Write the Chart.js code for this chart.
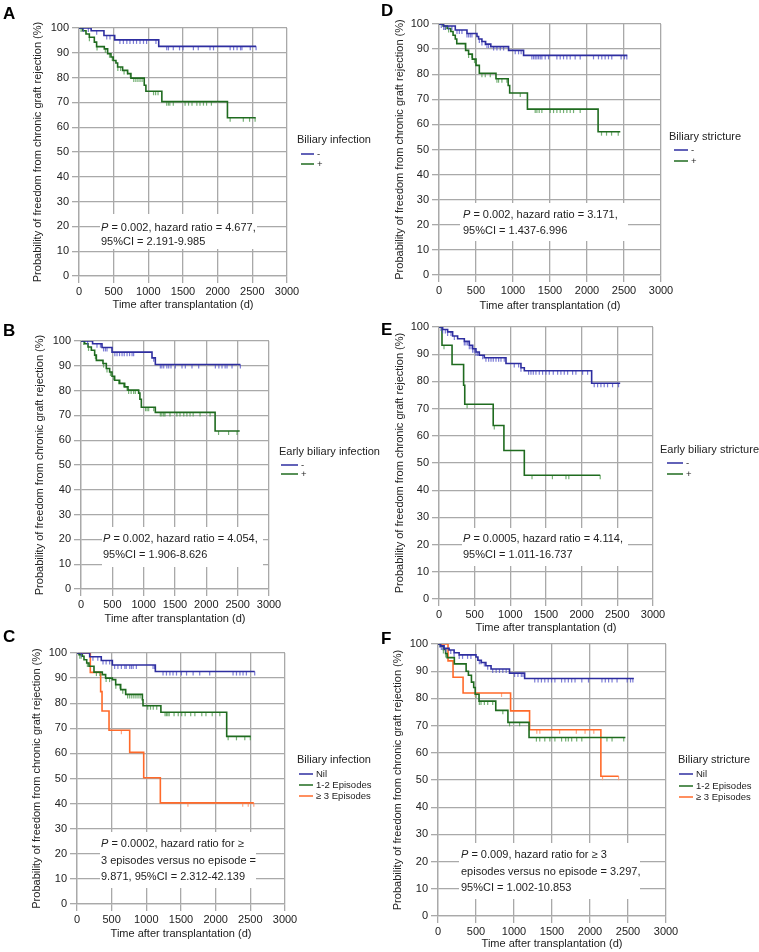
<!DOCTYPE html>
<html>
<head>
<meta charset="utf-8">
<script src="https://cdn.jsdelivr.net/npm/chart.js@4.4.0/dist/chart.umd.min.js"></script>
<style>
body { margin: 0; background: #fff; }
#wrap { position: relative; width: 759px; height: 952px; }
#wrap canvas { position: absolute; left: 0; top: 0; }
</style>
</head>
<body>
<div id="wrap"></div>
<script>
// axis ticks
const xTicks = [0, 500, 1000, 1500, 2000, 2500, 3000];
const yTicks = [0, 10, 20, 30, 40, 50, 60, 70, 80, 90, 100];

// A - biliary infection
const aNilT = [0, 175, 360, 515, 1150, 2554];
const aNilS = [100, 98.9, 97.0, 95.2, 92.6, 92.6];
const aNilC = [63, 135, 255, 400, 447, 590, 640, 690, 735, 785, 830, 880, 930, 975, 1110, 1265, 1290, 1360, 1450, 1500, 1650, 1720, 1890, 1940, 2180, 2230, 2280, 2330, 2350, 2470, 2554];
const aPosT = [0, 53, 101, 149, 221, 254, 365, 413, 461, 494, 533, 557, 629, 701, 749, 941, 965, 1195, 2141, 2549];
const aPosS = [100, 98.9, 97.6, 96.3, 94.3, 92.5, 91.6, 89.6, 88.3, 86.9, 85.9, 84.3, 82.9, 81.6, 79.8, 76.9, 74.5, 70.3, 63.8, 63.8];
const aPosC = [30, 150, 260, 380, 410, 440, 480, 560, 600, 650, 700, 740, 790, 820, 850, 880, 910, 1075, 1105, 1140, 1265, 1290, 1310, 1360, 1530, 1580, 1630, 1700, 1745, 1795, 1840, 1910, 2180, 2370, 2460, 2540];

// B - early biliary infection
const bNilT = [0, 185, 335, 495, 1133, 1186, 2543];
const bNilS = [100, 98.9, 97.4, 95.5, 93.2, 90.5, 90.5];
const bNilC = [106, 255, 310, 360, 390, 415, 540, 575, 615, 655, 690, 735, 775, 815, 840, 1160, 1266, 1290, 1320, 1370, 1400, 1436, 1505, 1612, 1665, 1771, 1878, 2144, 2200, 2250, 2300, 2330, 2410, 2543];
const bPosT = [0, 58, 112, 165, 218, 245, 351, 404, 457, 495, 537, 617, 697, 750, 920, 940, 963, 1186, 2140, 2532];
const bPosS = [100, 98.9, 97.6, 96.3, 94.3, 92.2, 90.9, 88.9, 87.5, 85.8, 84.2, 82.9, 81.5, 80.2, 79.0, 76.5, 73.3, 71.2, 63.7, 63.7];
const bPosC = [43, 120, 230, 360, 415, 470, 520, 600, 680, 735, 760, 800, 840, 867, 1030, 1055, 1080, 1160, 1266, 1290, 1320, 1340, 1420, 1530, 1580, 1640, 1690, 1740, 1790, 1900, 2060, 2195, 2355, 2490];

// C - biliary infection episodes
const cNilT = [0, 183, 350, 510, 1130, 2563];
const cNilS = [100, 98.5, 97.0, 95.2, 92.6, 92.6];
const cNilC = [63, 230, 300, 375, 420, 471, 543, 590, 640, 690, 710, 760, 785, 810, 856, 1097, 1120, 1241, 1290, 1340, 1385, 1435, 1505, 1580, 1675, 1770, 1914, 2251, 2300, 2350, 2395, 2443, 2563];
const cOneT = [0, 29, 77, 101, 140, 173, 245, 365, 413, 510, 558, 630, 702, 943, 952, 1210, 2159, 2506];
const cOneS = [100, 99.3, 98.7, 97.3, 96.0, 94.7, 92.4, 91.4, 90.0, 89.4, 87.4, 85.4, 83.5, 81.4, 79.0, 76.4, 66.8, 66.8];
const cOneC = [40, 60, 150, 280, 330, 420, 470, 560, 620, 660, 700, 730, 760, 790, 820, 850, 880, 910, 1020, 1060, 1100, 1150, 1270, 1290, 1310, 1330, 1400, 1460, 1510, 1560, 1640, 1700, 1800, 1860, 1950, 2060, 2180, 2300, 2420, 2500];
const cThrT = [0, 192, 341, 361, 462, 760, 962, 1202, 2550];
const cThrS = [100, 92.3, 84.6, 76.9, 69.2, 60.4, 50.3, 40.3, 40.3];
const cThrC = [640, 1600, 2390, 2470, 2550];

// D - biliary stricture
const dNilT = [0, 63, 220, 378, 513, 535, 580, 630, 700, 940, 1143, 2545];
const dNilS = [100, 99.2, 97.6, 96.2, 95.0, 94.0, 93.0, 92.0, 91.0, 89.5, 87.5, 87.5];
const dNilC = [31, 63, 86, 131, 175, 243, 275, 310, 378, 400, 423, 445, 545, 580, 625, 648, 670, 738, 783, 828, 873, 1030, 1075, 1110, 1255, 1278, 1300, 1323, 1345, 1368, 1390, 1435, 1480, 1593, 1638, 1683, 1728, 1773, 1840, 1908, 2088, 2155, 2200, 2245, 2290, 2335, 2461, 2506, 2538];
const dPosT = [0, 55, 110, 160, 190, 220, 240, 360, 400, 450, 500, 545, 770, 935, 955, 1195, 2150, 2450];
const dPosS = [100, 99.2, 98.2, 97.0, 95.5, 94.0, 92.2, 89.5, 88.0, 86.0, 83.5, 80.4, 78.2, 75.5, 72.5, 66.1, 57.1, 57.1];
const dPosC = [85, 130, 355, 400, 445, 480, 580, 625, 693, 783, 805, 850, 918, 1098, 1300, 1323, 1354, 1390, 1503, 1548, 1593, 1638, 1683, 1728, 1773, 1818, 1908, 2196, 2264, 2332, 2422];

// E - early biliary stricture
const eNilT = [0, 51, 121, 191, 261, 355, 425, 472, 518, 565, 635, 939, 1149, 1196, 2140, 2540];
const eNilS = [100, 99.1, 98.2, 96.7, 95.7, 94.7, 93.3, 92.0, 90.8, 89.6, 88.7, 86.6, 85.0, 83.9, 79.3, 79.3];
const eNilC = [28, 51, 89, 121, 168, 215, 355, 378, 402, 425, 448, 472, 495, 518, 542, 612, 658, 696, 729, 761, 799, 836, 869, 915, 1055, 1116, 1149, 1256, 1289, 1322, 1359, 1406, 1452, 1499, 1546, 1602, 1663, 1709, 1756, 1803, 1873, 1919, 2013, 2083, 2176, 2223, 2270, 2316, 2363, 2433, 2517];
const ePosT = [0, 42, 183, 345, 361, 760, 910, 1196, 2260];
const ePosS = [100, 93.3, 86.2, 78.6, 71.6, 63.8, 54.6, 45.5, 45.5];
const ePosC = [70, 394, 775, 1304, 1590, 1780, 1820, 2260];

// F - biliary stricture episodes
const fNilT = [0, 35, 80, 146, 212, 278, 500, 525, 570, 630, 698, 941, 1140, 2577];
const fNilS = [100, 99.3, 98.4, 97.8, 96.8, 96.0, 95.2, 94.0, 93.2, 92.0, 90.8, 89.3, 87.3, 87.3];
const fNilC = [27, 44, 71, 102, 168, 212, 279, 323, 389, 433, 522, 544, 566, 610, 654, 720, 765, 809, 853, 897, 1008, 1052, 1096, 1118, 1273, 1317, 1361, 1405, 1450, 1494, 1538, 1626, 1670, 1715, 1759, 1803, 1892, 1980, 2157, 2201, 2245, 2290, 2356, 2489, 2533, 2564];
const fOneT = [0, 30, 70, 100, 120, 215, 370, 400, 440, 470, 490, 540, 760, 920, 1198, 2466];
const fOneS = [100, 99.2, 98.0, 96.5, 95.0, 92.7, 90.0, 88.5, 86.0, 84.0, 81.5, 79.0, 75.6, 71.2, 65.6, 65.6];
const fOneC = [71, 102, 500, 544, 566, 610, 654, 720, 853, 941, 1074, 1295, 1339, 1405, 1472, 1538, 1626, 1680, 1715, 1759, 1825, 1892, 2223, 2290, 2444];
const fThrT = [0, 132, 198, 330, 955, 1205, 2143, 2376];
const fThrS = [100, 93.8, 87.8, 82.0, 75.4, 68.5, 51.4, 51.4];
const fThrC = [490, 836, 1300, 1340, 1600, 1820, 1935, 2050, 2165, 2376];

const FONT = "'Liberation Sans', Arial, sans-serif";
const TXT = '#222';
const GRID = '#a9a9a9';
const BLUE = '#2e2ea0', BLUE_T = 'rgba(80,80,200,0.75)';
const GREEN = '#1f6b1f', GREEN_T = 'rgba(70,150,70,0.75)';
const ORANGE = '#ff6a2a', ORANGE_T = 'rgba(255,150,110,0.85)';

const yTitle = 'Probability of freedom from chronic graft rejection (%)';
const xTitle = 'Time after transplantation (d)';

function stepAt(T, S, t) {
  let v = S[0];
  for (let i = 0; i < T.length; i++) if (T[i] <= t) v = S[i];
  return v;
}

const panels = [
  { letter: 'A', lp: [3, 14], box: [79, 28, 287, 276], ytx: 38, xty: 305,
    groups: [
      { label: '-', T: aNilT, S: aNilS, C: aNilC, col: BLUE, tcol: BLUE_T },
      { label: '+', T: aPosT, S: aPosS, C: aPosC, col: GREEN, tcol: GREEN_T }],
    legend: { title: 'Biliary infection', x: 297, y: 140, rows: [154, 164], lx: [301, 314] },
    note: { box: [100, 214, 257, 249], x: 101, ys: [228, 242],
      lines: ['P = 0.002, hazard ratio = 4.677,', '95%CI = 2.191-9.985'] } },
  { letter: 'D', lp: [381, 11], box: [439, 24, 661, 275], ytx: 400, xty: 306,
    groups: [
      { label: '-', T: dNilT, S: dNilS, C: dNilC, col: BLUE, tcol: BLUE_T },
      { label: '+', T: dPosT, S: dPosS, C: dPosC, col: GREEN, tcol: GREEN_T }],
    legend: { title: 'Biliary stricture', x: 669, y: 137, rows: [150, 161], lx: [674, 688] },
    note: { box: [460, 203, 628, 241], x: 463, ys: [215, 231],
      lines: ['P = 0.002, hazard ratio = 3.171,', '95%CI = 1.437-6.996'] } },
  { letter: 'B', lp: [3, 331], box: [81, 341, 269, 589], ytx: 40, xty: 619,
    groups: [
      { label: '-', T: bNilT, S: bNilS, C: bNilC, col: BLUE, tcol: BLUE_T },
      { label: '+', T: bPosT, S: bPosS, C: bPosC, col: GREEN, tcol: GREEN_T }],
    legend: { title: 'Early biliary infection', x: 279, y: 452, rows: [465, 474], lx: [281, 298] },
    note: { box: [102, 527, 263, 567], x: 103, ys: [539, 555],
      lines: ['P = 0.002, hazard ratio = 4.054,', '95%CI = 1.906-8.626'] } },
  { letter: 'E', lp: [381, 330], box: [439, 327, 653, 599], ytx: 400, xty: 628,
    groups: [
      { label: '-', T: eNilT, S: eNilS, C: eNilC, col: BLUE, tcol: BLUE_T },
      { label: '+', T: ePosT, S: ePosS, C: ePosC, col: GREEN, tcol: GREEN_T }],
    legend: { title: 'Early biliary stricture', x: 660, y: 450, rows: [463, 474], lx: [667, 683] },
    note: { box: [462, 528, 628, 566], x: 463, ys: [539, 555],
      lines: ['P = 0.0005, hazard ratio = 4.114,', '95%CI = 1.011-16.737'] } },
  { letter: 'C', lp: [3, 637], box: [77, 653, 285, 904], ytx: 37, xty: 934,
    groups: [
      { label: 'Nil', T: cNilT, S: cNilS, C: cNilC, col: BLUE, tcol: BLUE_T },
      { label: '1-2 Episodes', T: cOneT, S: cOneS, C: cOneC, col: GREEN, tcol: GREEN_T },
      { label: '\u2265 3 Episodes', T: cThrT, S: cThrS, C: cThrC, col: ORANGE, tcol: ORANGE_T }],
    legend: { title: 'Biliary infection', x: 297, y: 760, rows: [774, 785, 796], lx: [299, 313] },
    note: { box: [100, 832, 256, 888], x: 101, ys: [844, 861, 877],
      lines: ['P = 0.0002, hazard ratio for \u2265', '3 episodes versus no episode =', '9.871, 95%CI = 2.312-42.139'] } },
  { letter: 'F', lp: [381, 639], box: [438, 644, 666, 916], ytx: 398, xty: 944,
    groups: [
      { label: 'Nil', T: fNilT, S: fNilS, C: fNilC, col: BLUE, tcol: BLUE_T },
      { label: '1-2 Episodes', T: fOneT, S: fOneS, C: fOneC, col: GREEN, tcol: GREEN_T },
      { label: '\u2265 3 Episodes', T: fThrT, S: fThrS, C: fThrC, col: ORANGE, tcol: ORANGE_T }],
    legend: { title: 'Biliary stricture', x: 678, y: 760, rows: [774, 786, 797], lx: [679, 693] },
    note: { box: [459, 843, 640, 899], x: 461, ys: [855, 872, 888],
      lines: ['P = 0.009, hazard ratio for \u2265 3', 'episodes versus no episode = 3.297,', '95%CI = 1.002-10.853'] } }
];

function textPlugin(p) {
  return {
    id: 'panelText' + p.letter,
    beforeDatasetsDraw(chart) {
      const ctx = chart.ctx, n = p.note;
      ctx.save();
      ctx.fillStyle = '#fff';
      ctx.fillRect(n.box[0], n.box[1], n.box[2] - n.box[0], n.box[3] - n.box[1]);
      ctx.fillStyle = TXT;
      ctx.textBaseline = 'middle';
      ctx.textAlign = 'left';
      n.lines.forEach((s, i) => {
        let x = n.x;
        if (s.startsWith('P ')) {
          ctx.font = 'italic 11px ' + FONT;
          ctx.fillText('P', x, n.ys[i]);
          x += ctx.measureText('P').width;
          s = s.slice(1);
        }
        ctx.font = '11px ' + FONT;
        ctx.fillText(s, x, n.ys[i]);
      });
      ctx.restore();
    },
    afterDraw(chart) {
      const ctx = chart.ctx, lg = p.legend;
      ctx.save();
      ctx.fillStyle = '#000';
      ctx.textBaseline = 'middle';
      ctx.textAlign = 'left';
      ctx.font = 'bold 17px ' + FONT;
      ctx.fillText(p.letter, p.lp[0], p.lp[1]);
      ctx.fillStyle = TXT;
      ctx.font = '11px ' + FONT;
      ctx.fillText(lg.title, lg.x, lg.y);
      p.groups.forEach((g, i) => {
        const y = lg.rows[i];
        ctx.strokeStyle = g.col;
        ctx.lineWidth = 1.5;
        ctx.beginPath();
        ctx.moveTo(lg.lx[0], y);
        ctx.lineTo(lg.lx[1], y);
        ctx.stroke();
        ctx.font = '9.5px ' + FONT;
        ctx.fillText(g.label, lg.lx[1] + 3, y);
      });
      ctx.restore();
    }
  };
}

const wrap = document.getElementById('wrap');

panels.forEach(p => {
  const cv = document.createElement('canvas');
  cv.width = 759; cv.height = 952;
  wrap.appendChild(cv);

  const [L, T, R, B] = p.box;
  const padLeft = p.ytx - 6.6;
  const yW = L - padLeft;
  const xH = p.xty + 6.6 - B;
  const padBottom = 952 - B - xH;

  const datasets = [];
  p.groups.forEach(g => {
    datasets.push({
      label: g.label,
      data: g.T.map((t, i) => ({ x: t, y: g.S[i] })),
      borderColor: g.col,
      borderWidth: 1.6,
      stepped: true,
      pointRadius: 0,
      fill: false
    });
    datasets.push({
      label: g.label + ' censored',
      data: g.C.map(t => ({ x: t, y: stepAt(g.T, g.S, t) })),
      showLine: false,
      borderColor: g.tcol,
      pointStyle: 'dash',
      pointRotation: 90,
      pointRadius: 4,
      pointBorderWidth: 1.2,
      pointHoverRadius: 4
    });
  });

  const tickFont = { family: FONT, size: 11 };
  new Chart(cv, {
    type: 'line',
    data: { datasets },
    options: {
      responsive: false,
      animation: false,
      devicePixelRatio: 1,
      layout: { padding: { left: padLeft, top: T, right: 759 - R, bottom: padBottom } },
      plugins: { legend: { display: false }, tooltip: { enabled: false } },
      scales: {
        x: {
          type: 'linear', min: xTicks[0], max: xTicks[xTicks.length - 1],
          afterBuildTicks: s => { s.ticks = xTicks.map(v => ({ value: v })); },
          afterFit: s => { s.height = xH; },
          ticks: { color: TXT, font: tickFont, padding: 2, maxRotation: 0, autoSkip: false, callback: v => String(v) },
          grid: { color: GRID, lineWidth: 1.3, tickLength: 7 },
          border: { color: GRID, width: 1.3 },
          title: { display: true, text: xTitle, color: TXT, font: { family: FONT, size: 11 }, padding: 0 }
        },
        y: {
          type: 'linear', min: yTicks[0], max: yTicks[yTicks.length - 1],
          afterBuildTicks: s => { s.ticks = yTicks.map(v => ({ value: v })); },
          afterFit: s => { s.width = yW; },
          ticks: { color: TXT, font: tickFont, padding: 3, autoSkip: false, callback: v => String(v) },
          grid: { color: GRID, lineWidth: 1.3, tickLength: 7 },
          border: { color: GRID, width: 1.3 },
          title: { display: true, text: yTitle, color: TXT, font: { family: FONT, size: 11 }, padding: 0 }
        }
      }
    },
    plugins: [textPlugin(p)]
  });
});
</script>
</body>
</html>
